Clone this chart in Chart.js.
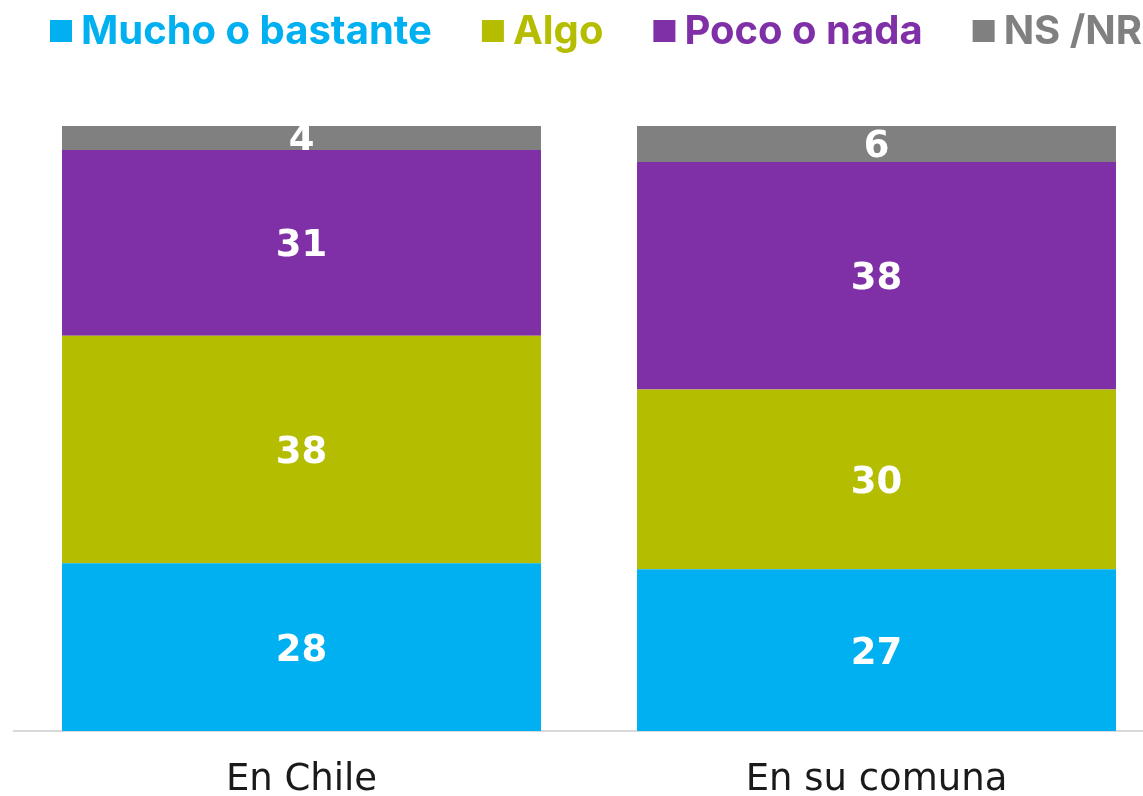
<!DOCTYPE html>
<html>
<head>
<meta charset="utf-8">
<script src="https://cdn.jsdelivr.net/npm/chart.js@4.4.1/dist/chart.umd.min.js"></script>
<style>
html,body{margin:0;padding:0;background:#fff;overflow:hidden;}
#wrap{width:1165px;height:796px;}
</style>
</head>
<body>
<div id="wrap"><canvas id="c" width="1165" height="796"></canvas></div>
<script>
const categories = ['En Chile', 'En su comuna'];
const seriesNames = ['Mucho o bastante', 'Algo', 'Poco o nada', 'NS /NR'];
const mucho = [28, 27];
const algo = [38, 30];
const poco = [31, 38];
const nsnr = [4, 6];
const colors = ['#00B0F0', '#B5BD00', '#7F30A7', '#808080'];

const seriesData = [mucho, algo, poco, nsnr];

const labelPlugin = {
  id: 'segLabels',
  afterDatasetsDraw(chart) {
    const ctx = chart.ctx;
    const size = 37;
    chart.data.datasets.forEach((ds, di) => {
      const meta = chart.getDatasetMeta(di);
      meta.data.forEach((bar, i) => {
        const p = bar.getProps(['x', 'y', 'base', 'width'], true);
        const top = Math.min(p.y, p.base), bot = Math.max(p.y, p.base);
        ctx.save();
        ctx.beginPath();
        ctx.rect(p.x - p.width / 2, top, p.width, bot - top);
        ctx.clip();
        ctx.fillStyle = '#ffffff';
        ctx.font = 'bold ' + size + 'px "DejaVu Sans"';
        ctx.textAlign = 'center';
        ctx.textBaseline = 'alphabetic';
        ctx.fillText(String(ds.data[i]), p.x, (top + bot) / 2 + size * 0.365);
        ctx.restore();
      });
    });
  }
};

const legendPlugin = {
  id: 'customLegend',
  afterDraw(chart) {
    const ctx = chart.ctx;
    ctx.save();
    ctx.font = 'bold 40px Inter';
    ctx.textBaseline = 'alphabetic';
    ctx.textAlign = 'left';
    let x = 50;
    chart.data.datasets.forEach((ds) => {
      ctx.fillStyle = ds.backgroundColor;
      ctx.fillRect(x, 20, 22, 22);
      const tx = x + 31;
      ctx.fillText(ds.label, tx, 44);
      x = tx + ctx.measureText(ds.label).width + 50;
    });
    ctx.restore();
  }
};

new Chart(document.getElementById('c'), {
  type: 'bar',
  data: {
    labels: categories,
    datasets: seriesData.map((d, k) => ({
      label: seriesNames[k],
      data: d,
      backgroundColor: colors[k],
      borderWidth: 0,
      categoryPercentage: 0.833,
      barPercentage: 1
    }))
  },
  options: {
    responsive: false,
    animation: false,
    layout: { padding: { left: 14, right: 1, top: 126, bottom: 0 } },
    scales: {
      x: {
        stacked: true,
        grid: { display: false, drawTicks: false },
        border: { display: true, color: '#d9d9d9', width: 2 },
        ticks: { color: '#1a1a1a', font: { family: 'DejaVu Sans', size: 37 }, padding: 27 },
        afterFit(scale) { scale.height = 65; }
      },
      y: {
        stacked: true,
        display: false,
        min: 0,
        max: 101
      }
    },
    plugins: {
      tooltip: { enabled: false },
      legend: { display: false }
    }
  },
  plugins: [labelPlugin, legendPlugin]
});
</script>
</body>
</html>
